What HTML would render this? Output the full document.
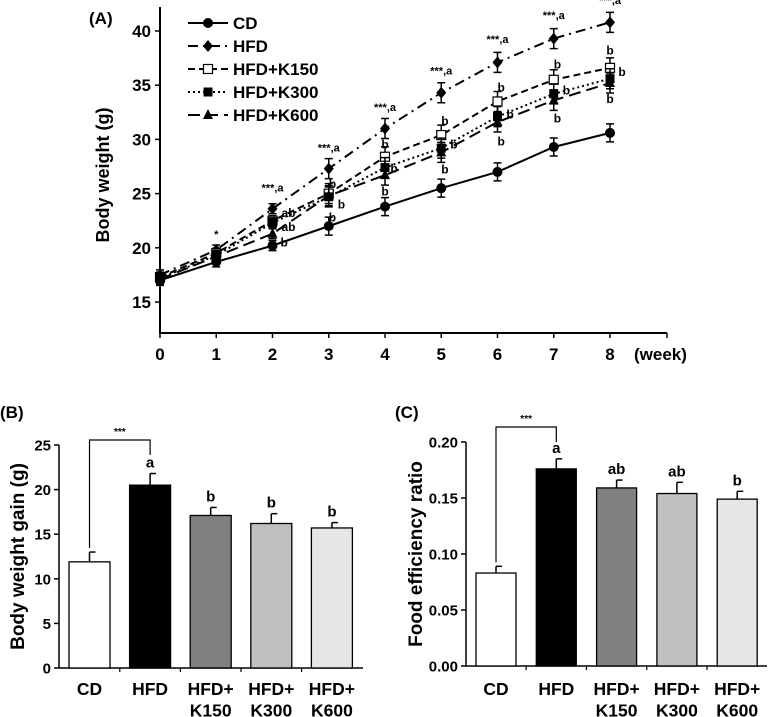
<!DOCTYPE html>
<html><head><meta charset="utf-8"><style>
html,body{margin:0;padding:0;background:#fff}
svg{display:block;font-family:"Liberation Sans",Arial,sans-serif;font-weight:bold}
</style></head><body>
<svg id="s" width="768" height="717" viewBox="0 0 768 717" xmlns="http://www.w3.org/2000/svg"></svg>
<script>
const s=document.getElementById('s');let h='';
const X=w=>160+56.25*w, Y=v=>31+(40-v)*10.84;
h+=`<text x="89" y="24" font-size="17">(A)</text>`;
h+=`<line x1="160" y1="7" x2="160" y2="333" stroke="#000" stroke-width="2"/><line x1="159" y1="333" x2="667" y2="333" stroke="#000" stroke-width="2"/>`;
for(let v=15;v<=40;v+=5){h+=`<line x1="155" y1="${Y(v)}" x2="160" y2="${Y(v)}" stroke="#000" stroke-width="1.5"/><text x="151" y="${Y(v)+6}" font-size="17" text-anchor="end">${v}</text>`;}
for(let w=0;w<=9;w++){let x=w<9?X(w):667;h+=`<line x1="${x}" y1="333" x2="${x}" y2="338" stroke="#000" stroke-width="1.5"/>`;if(w<9)h+=`<text x="${x}" y="360" font-size="17" text-anchor="middle">${w}</text>`;}
h+=`<text x="634" y="360" font-size="17">(week)</text>`;
h+=`<text transform="translate(109,175) rotate(-90)" font-size="18" text-anchor="middle">Body weight (g)</text>`;
const D={CD:[17.0,18.7,20.2,22.0,23.8,25.5,27.0,29.3,30.6],
HFD:[17.5,19.8,23.6,27.3,31.0,34.3,37.1,39.3,40.8],
K150:[17.3,19.5,22.5,25.0,28.4,30.4,33.5,35.5,36.6],
K300:[17.2,19.3,22.3,24.7,27.4,29.2,32.1,34.2,35.6],
K600:[17.1,19.2,21.3,24.8,26.7,28.8,31.6,33.6,35.2]};
const st={CD:'',HFD:'10,5,2,5',K150:'7,4',K300:'2,3',K600:'12,6'};
const mk=(k,x,y)=>{if(k=='CD')return `<circle cx="${x}" cy="${y}" r="5"/>`;
if(k=='HFD')return `<path d="M${x} ${y-6}L${x+5} ${y}L${x} ${y+6}L${x-5} ${y}Z"/>`;
if(k=='K150')return `<rect x="${x-4.5}" y="${y-4.5}" width="9" height="9" fill="#fff" stroke="#000" stroke-width="1.2"/>`;
if(k=='K300')return `<rect x="${x-4.5}" y="${y-4.5}" width="9" height="9"/>`;
return `<path d="M${x} ${y-6}L${x+5} ${y+4}L${x-5} ${y+4}Z"/>`;};
for(const k in D){const p=D[k].map((v,i)=>X(i)+','+Y(v)).join(' ');
h+=`<polyline points="${p}" fill="none" stroke="#000" stroke-width="2" ${st[k]?`stroke-dasharray="${st[k]}"`:''}/>`;
D[k].forEach((v,i)=>{const x=X(i),y=Y(v),e=i>2?(k=='CD'?9:10):5;
h+=`<path d="M${x} ${y-e}V${y+e}M${x-4} ${y-e}H${x+4}M${x-4} ${y+e}H${x+4}" stroke="#000" stroke-width="1.5"/>`;h+=mk(k,x,y);});}
const an=[[1,Y(20.9),'*'],[2,Y(25.2),'***,a'],[3,Y(28.9),'***,a'],[4,Y(32.6),'***,a'],[5,Y(36),'***,a'],[6,Y(38.9),'***,a'],[7,Y(41.1),'***,a'],[8,Y(42.5),'***,a']];
an.forEach(a=>h+=`<text x="${X(a[0])}" y="${a[1]}" font-size="11" text-anchor="middle">${a[2]}</text>`);
const bs=[[X(2)+9,Y(23.3),'ab'],[X(2)+9,Y(22),'ab'],[X(2)+8,Y(20.6),'b'],[X(3),Y(26),'b'],[X(3)+9,Y(24.1),'b'],[X(3),Y(22.9),'b'],
[X(4),Y(29.6),'b'],[X(4)+9,Y(27.4),'b'],[X(4),Y(25.3),'b'],[X(5),Y(31.8),'b'],[X(5)+9,Y(29.6),'b'],[X(5),Y(27.3),'b'],
[X(6),Y(34.9),'b'],[X(6)+9,Y(32.4),'b'],[X(6),Y(29.9),'b'],[X(7),Y(37),'b'],[X(7)+9,Y(34.6),'b'],[X(7),Y(32),'b'],
[X(8),Y(38.3),'b'],[X(8)+12,Y(36.3),'b'],[X(8),Y(33.8),'b']];
bs.forEach(a=>h+=`<text x="${a[0]}" y="${a[1]+5}" font-size="12" text-anchor="${a[2]=='ab'||a[0]%1?'start':'middle'}">${a[2]}</text>`);
const L=[['CD','CD'],['HFD','HFD'],['K150','HFD+K150'],['K300','HFD+K300'],['K600','HFD+K600']];
L.forEach((l,i)=>{const y=23+i*23;h+=`<line x1="188" y1="${y}" x2="228" y2="${y}" stroke="#000" stroke-width="2" ${st[l[0]]?`stroke-dasharray="${st[l[0]]}"`:''}/>`+mk(l[0],208,y)+`<text x="233" y="${y+6}" font-size="17">${l[1]}</text>`;});
const fills=['#fff','#000','#808080','#c0c0c0','#e6e6e6'];
function bars(o){
 h+=`<text x="${o.lx}" y="${o.ly}" font-size="17">${o.lab}</text>`;
 h+=`<line x1="${o.ax}" y1="${o.top}" x2="${o.ax}" y2="${o.y0}" stroke="#000" stroke-width="1.5"/><line x1="${o.ax}" y1="${o.y0}" x2="${o.xe}" y2="${o.y0}" stroke="#000" stroke-width="1.5"/>`;
 const Yb=v=>o.y0-(v/o.max)*(o.y0-o.ytop);
 o.ticks.forEach(t=>h+=`<line x1="${o.ax-5}" y1="${Yb(t)}" x2="${o.ax}" y2="${Yb(t)}" stroke="#000" stroke-width="1.5"/><text x="${o.ax-8}" y="${Yb(t)+5.5}" font-size="15" text-anchor="end">${o.fmt(t)}</text>`);
 h+=`<text transform="translate(${o.yl},${(o.y0+o.ytop)/2}) rotate(-90)" font-size="19" text-anchor="middle">${o.ylab}</text>`;
 const names=[['CD'],['HFD'],['HFD+','K150'],['HFD+','K300'],['HFD+','K600']];
 o.v.forEach((v,i)=>{const x=o.bx+i*o.sp,c=x+o.bw/2,y=Yb(v),ye=Yb(v+o.e[i]);
  h+=`<line x1="${c}" y1="${y}" x2="${c}" y2="${ye}" stroke="#000" stroke-width="1.5"/><line x1="${c}" y1="${ye}" x2="${c+6}" y2="${ye}" stroke="#000" stroke-width="1.5"/>`;
  h+=`<rect x="${x}" y="${y}" width="${o.bw}" height="${o.y0-y}" fill="${fills[i]}" stroke="#000" stroke-width="1.3"/>`;
  if(o.sig[i])h+=`<text x="${c}" y="${ye-6}" font-size="15" text-anchor="middle">${o.sig[i]}</text>`;
  names[i].forEach((n,j)=>h+=`<text x="${c}" y="${695+j*21.5}" font-size="17.5" text-anchor="middle">${n}</text>`);
  if(i<4)h+=`<line x1="${x+o.bw+(o.sp-o.bw)/2}" y1="${o.y0}" x2="${x+o.bw+(o.sp-o.bw)/2}" y2="${o.y0+4}" stroke="#000" stroke-width="1.2"/>`;});
 const c0=o.bx+o.bw/2,c1=o.bx+o.sp+o.bw/2,yc=Yb(o.v[0]+o.e[0])-4;
 h+=`<path d="M${c0} ${yc}V${o.br}H${c1}V${o.br+15}" fill="none" stroke="#000" stroke-width="1.2"/><text x="${(c0+c1)/2}" y="${o.br-5}" font-size="10" text-anchor="middle">***</text>`;
}
bars({lab:'(B)',lx:0,ly:418,ax:59,top:445,y0:668,ytop:445,max:25,xe:363,ticks:[0,5,10,15,20,25],fmt:t=>t,yl:24,ylab:'Body weight gain (g)',
 v:[11.9,20.5,17.1,16.2,15.7],e:[1.1,1.3,0.9,1.1,0.6],sig:['','a','b','b','b'],bx:69,sp:60.6,bw:41,br:440});
bars({lab:'(C)',lx:395,ly:418,ax:466,top:442,y0:666,ytop:442,max:0.2,xe:767,ticks:[0,0.05,0.1,0.15,0.2],fmt:t=>t.toFixed(2),yl:422,ylab:'Food efficiency ratio',
 v:[0.083,0.176,0.159,0.154,0.149],e:[0.006,0.009,0.007,0.010,0.007],sig:['','a','ab','ab','b'],bx:476,sp:60.3,bw:40,br:427});
s.innerHTML=h;
</script>
</body></html>
